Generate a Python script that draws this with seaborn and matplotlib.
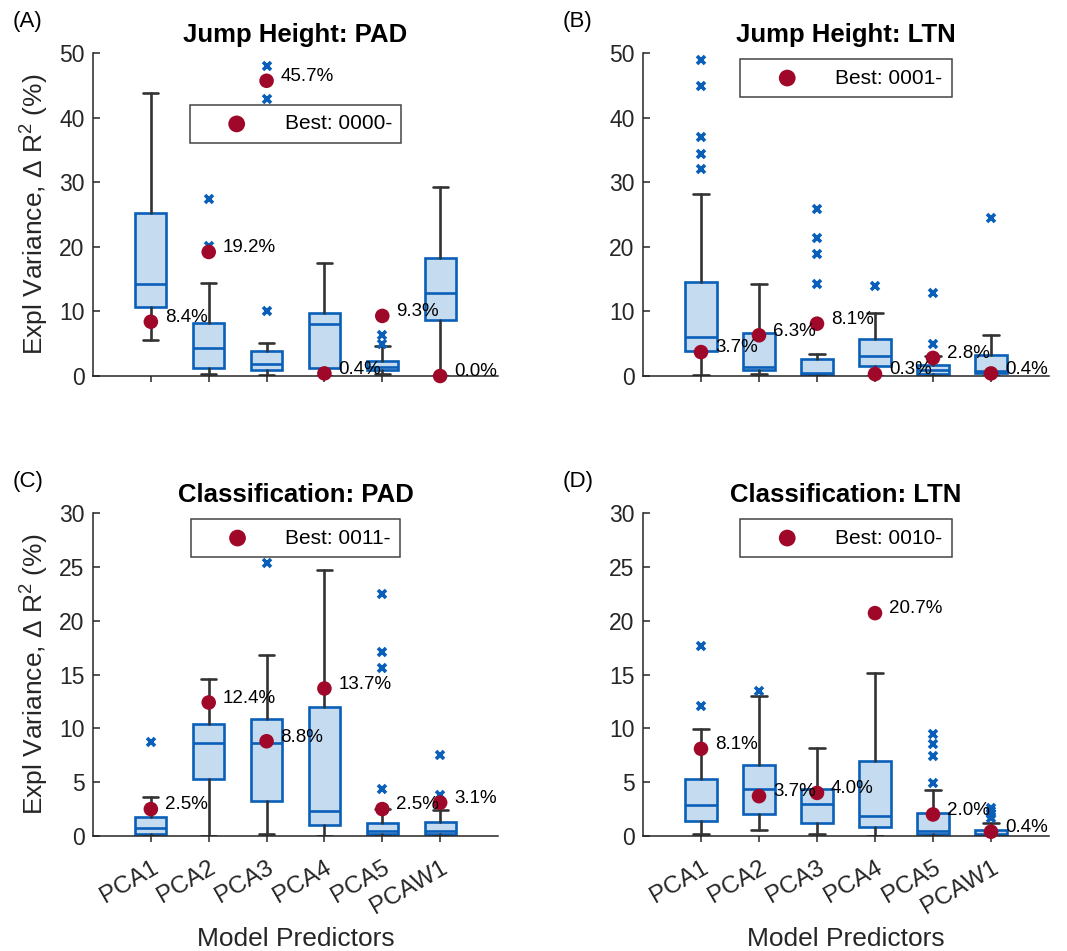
import numpy as np
import pandas as pd
import matplotlib
matplotlib.use("Agg")
import matplotlib.pyplot as plt
import seaborn as sns

# ---------------- data ----------------
predictors = ["PCA1", "PCA2", "PCA3", "PCA4", "PCA5", "PCAW1"]

# Panel A: Jump Height: PAD
A_whislo = [5.6, 0.26, 0.1, 0.0, 0.26, 0.0]
A_q1 = [10.7, 1.2, 1.0, 1.3, 1.0, 8.7]
A_med = [14.3, 4.3, 1.9, 8.0, 1.4, 12.8]
A_q3 = [25.3, 8.2, 3.8, 9.7, 2.3, 18.3]
A_whishi = [43.8, 14.4, 5.1, 17.5, 4.65, 29.3]
A_fliers = [[], [27.4, 20.2], [48.0, 42.9, 10.0], [], [6.4, 5.0], []]
A_best = [8.4, 19.2, 45.7, 0.4, 9.3, 0.0]

# Panel B: Jump Height: LTN
B_whislo = [0.1, 0.26, 0.0, 0.0, 0.0, 0.0]
B_q1 = [3.8, 1.0, 0.35, 1.55, 0.35, 0.5]
B_med = [6.0, 1.4, 0.5, 3.05, 0.9, 0.8]
B_q3 = [14.5, 6.7, 2.7, 5.7, 1.65, 3.3]
B_whishi = [28.2, 14.3, 3.4, 9.7, 3.05, 6.4]
B_fliers = [[48.9, 44.9, 37.0, 34.3, 32.1], [], [25.8, 21.4, 18.9, 14.3], [13.9], [12.9, 5.0], [24.5]]
B_best = [3.7, 6.3, 8.1, 0.3, 2.8, 0.4]

# Panel C: Classification: PAD
C_whislo = [0.0, 0.0, 0.15, 0.0, 0.0, 0.0]
C_q1 = [0.15, 5.25, 3.26, 1.05, 0.2, 0.15]
C_med = [0.7, 8.6, 8.6, 2.3, 0.45, 0.45]
C_q3 = [1.8, 10.4, 10.9, 12.0, 1.25, 1.3]
C_whishi = [3.6, 14.6, 16.8, 24.7, 2.5, 2.4]
C_fliers = [[8.75], [], [25.4], [], [22.5, 17.1, 15.6, 4.35], [7.55, 3.85]]
C_best = [2.5, 12.4, 8.8, 13.7, 2.5, 3.1]

# Panel D: Classification: LTN
D_whislo = [0.15, 0.6, 0.15, 0.0, 0.0, 0.0]
D_q1 = [1.4, 2.0, 1.2, 0.85, 0.2, 0.05]
D_med = [2.85, 4.4, 3.0, 1.9, 0.5, 0.15]
D_q3 = [5.3, 6.6, 4.35, 7.0, 2.1, 0.6]
D_whishi = [9.9, 13.0, 8.2, 15.1, 4.3, 1.25]
D_fliers = [[17.65, 12.1], [13.45], [], [], [9.45, 8.5, 7.45, 4.95], [2.6, 2.3, 2.0, 1.7]]
D_best = [8.1, 3.7, 4.0, 20.7, 2.0, 0.4]

titles = ["Jump Height: PAD", "Jump Height: LTN", "Classification: PAD", "Classification: LTN"]
panel_tags = ["(A)", "(B)", "(C)", "(D)"]
best_labels = ["Best: 0000-", "Best: 0001-", "Best: 0011-", "Best: 0010-"]
ylims = [50, 50, 30, 30]
ystep = [10, 10, 5, 5]

# ---------------- style ----------------
sns.set_theme(style="ticks")
plt.rcParams["font.family"] = ["Liberation Sans", "DejaVu Sans"]
plt.rcParams["mathtext.fontset"] = "custom"
plt.rcParams["mathtext.rm"] = "Liberation Sans"
plt.rcParams["mathtext.it"] = "Liberation Sans:italic"

TXT = "#262626"
BOX_EDGE = "#0a5fb8"
BOX_FACE = "#c5dcf0"
WHISK = "#333333"
RED = "#a0082a"

fig = plt.figure(figsize=(10.67, 9.51), dpi=100)
positions_ax = [
    [93 / 1067, 1 - 376 / 951, 405 / 1067, 323 / 951],
    [643 / 1067, 1 - 376 / 951, 406 / 1067, 323 / 951],
    [93 / 1067, 1 - 836 / 951, 405 / 1067, 323 / 951],
    [643 / 1067, 1 - 836 / 951, 406 / 1067, 323 / 951],
]
panels = [
    (A_whislo, A_q1, A_med, A_q3, A_whishi, A_fliers, A_best),
    (B_whislo, B_q1, B_med, B_q3, B_whishi, B_fliers, B_best),
    (C_whislo, C_q1, C_med, C_q3, C_whishi, C_fliers, C_best),
    (D_whislo, D_q1, D_med, D_q3, D_whishi, D_fliers, D_best),
]
legend_top = [0.839, 0.981, 0.981, 0.981]

xpos = np.arange(1, len(predictors) + 1)

for i, (rect, pdata) in enumerate(zip(positions_ax, panels)):
    whislo, q1, med, q3, whishi, fliers, best = pdata
    ax = fig.add_axes(rect)
    stats = [
        dict(label=predictors[k], whislo=whislo[k], q1=q1[k], med=med[k],
             q3=q3[k], whishi=whishi[k], fliers=fliers[k])
        for k in range(len(predictors))
    ]
    ax.bxp(stats, positions=xpos, widths=0.54, capwidths=0.26, patch_artist=True,
           boxprops=dict(facecolor=BOX_FACE, edgecolor=BOX_EDGE, linewidth=1.9),
           medianprops=dict(color=BOX_EDGE, linewidth=1.9),
           whiskerprops=dict(color=WHISK, linewidth=1.9),
           capprops=dict(color=WHISK, linewidth=1.9),
           flierprops=dict(marker="x", markeredgecolor=BOX_EDGE, markersize=5.5,
                           markeredgewidth=2.6, linestyle="none"),
           zorder=2)

    df = pd.DataFrame({"pos": xpos, "best": best})
    sns.scatterplot(data=df, x="pos", y="best", ax=ax, color=RED, s=110,
                    edgecolor="none", zorder=5, label=best_labels[i], clip_on=False)
    for xp, v in zip(xpos, best):
        ax.annotate(f"{v:.1f}%", (xp, v), xytext=(10, 3), textcoords="offset points",
                    va="center", ha="left", fontsize=13.5, color="black", zorder=6)

    ax.set_xlim(0, 7)
    ax.set_ylim(0, ylims[i])
    ax.set_yticks(np.arange(0, ylims[i] + 0.1, ystep[i]))
    ax.set_xticks(xpos)
    if i >= 2:
        ax.set_xticklabels(predictors, rotation=30, ha="right", rotation_mode="anchor",
                           fontsize=17.5, color=TXT)
        ax.set_xlabel("Model Predictors", fontsize=19, color=TXT, labelpad=6)
    else:
        ax.set_xticklabels([])
        ax.set_xlabel("")
    if i % 2 == 0:
        ax.set_ylabel("Expl Variance, Δ R$^2$ (%)", fontsize=19, color=TXT, labelpad=6)
    else:
        ax.set_ylabel("")
    ax.tick_params(axis="y", direction="in", length=5, width=1.1, colors=TXT,
                   labelsize=16.5, pad=6)
    ax.tick_params(axis="x", direction="out", length=4, width=1.1, colors=TXT, pad=11)
    for s in ["top", "right"]:
        ax.spines[s].set_visible(False)
    for s in ["left", "bottom"]:
        ax.spines[s].set_color(TXT)
        ax.spines[s].set_linewidth(1.1)
    ax.set_title(titles[i], fontsize=18.5, fontweight="bold", color="black", pad=8)
    leg = ax.legend(loc="upper center", bbox_to_anchor=(0.5, legend_top[i]),
                    fontsize=15, frameon=True, fancybox=False, framealpha=1,
                    edgecolor="#444444", handlelength=3.6, handletextpad=0.5,
                    borderpad=0.45, borderaxespad=0, markerscale=1.15,
                    labelcolor="black")
    leg.get_frame().set_linewidth(1.1)
    ax.patch.set_alpha(0)
    ax.grid(False)

    x0 = rect[0]
    fig.text(x0 - 80 / 1067, rect[1] + rect[3] + 31 / 951, panel_tags[i], fontsize=16,
             color="black", ha="left", va="center")

fig.savefig("out.png", dpi=100)
